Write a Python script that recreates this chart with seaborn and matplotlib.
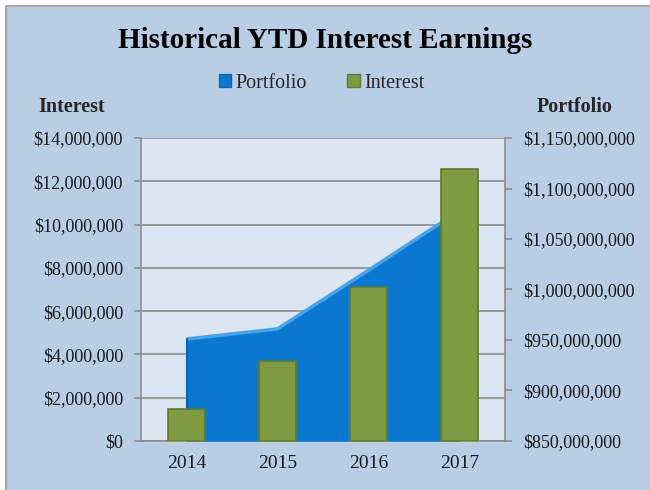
import matplotlib
matplotlib.use("Agg")
import matplotlib.pyplot as plt
import seaborn as sns
from matplotlib.patches import Rectangle
from matplotlib.ticker import FuncFormatter, FixedLocator

# Data
years = ["2014", "2015", "2016", "2017"]
interest = [1480000, 3680000, 7130000, 12580000]
portfolio = [951000000, 961000000, 1019000000, 1078000000]

BG = "#b9cde5"
PLOT_BG = "#dce6f2"
BLUE = "#0a78cf"
BLUE_EDGE = "#3ea6f2"
GREEN = "#7f9b42"
GREEN_EDGE = "#5f7a2c"
GRID = "#8c8c8c"

sns.set_theme(style="white")
plt.rcParams["font.family"] = ["Liberation Serif", "DejaVu Serif"]

fig = plt.figure(figsize=(6.5, 4.9), dpi=100)
fig.patch.set_facecolor("white")
fig.patches.append(Rectangle((6 / 650, -0.05), 1.1, 1 - 6 / 490 + 0.05,
                             transform=fig.transFigure, facecolor=BG,
                             edgecolor="#9a9a9a", linewidth=1.2, zorder=-10))

rect = [141 / 650, 49 / 490, 364 / 650, 303 / 490]
ax = fig.add_axes(rect)          # interest scale, background + grid
ax2 = ax.twinx()                 # portfolio area
ax3 = ax.twinx()                 # interest bars on top

x = list(range(len(years)))

# background & grid
ax.set_facecolor(PLOT_BG)
ax.set_ylim(0, 14000000)
ax.set_yticks(range(0, 14000001, 2000000))
ax.yaxis.grid(True, color=GRID, linewidth=1.2)
ax.set_axisbelow(True)
ax.yaxis.set_major_formatter(FuncFormatter(lambda v, p: f"${v:,.0f}"))

# portfolio area
ax2.fill_between(x, 850000000, portfolio, color=BLUE, linewidth=0, zorder=2)
ax2.plot(x, portfolio, color=BLUE_EDGE, linewidth=2.5, solid_capstyle="butt", zorder=3)
ax2.plot([0, 0], [850000000, portfolio[0]], color="#0868b8", linewidth=1.5, zorder=3)
ax2.set_ylim(850000000, 1150000000)
ax2.set_yticks(range(850000000, 1150000001, 50000000))
ax2.yaxis.set_major_formatter(FuncFormatter(lambda v, p: f"${v:,.0f}"))

# interest bars
sns.barplot(x=x, y=interest, ax=ax3, color=GREEN, width=0.4, native_scale=True,
            edgecolor=GREEN_EDGE, linewidth=1.2, saturation=1, zorder=4)
ax3.set_ylim(0, 14000000)
ax3.set_yticks([])
ax3.set_ylabel("")

for a in (ax, ax2, ax3):
    a.set_xlim(-0.5, 3.5)
    for s in a.spines.values():
        s.set_visible(False)

ax.spines["left"].set_visible(True)
ax.spines["bottom"].set_visible(True)
ax2.spines["right"].set_visible(True)
for s in (ax.spines["left"], ax.spines["bottom"], ax2.spines["right"]):
    s.set_color(GRID)
    s.set_linewidth(1.2)

# category ticks between years, labels at centers
ax.xaxis.set_major_locator(FixedLocator([-0.5, 0.5, 1.5, 2.5, 3.5]))
ax.xaxis.set_major_formatter(FuncFormatter(lambda v, p: ""))
ax.xaxis.set_minor_locator(FixedLocator(x))
ax.set_xticklabels(years, minor=True)
ax.tick_params(axis="x", which="major", direction="out", length=5, width=1.2,
               color=GRID, bottom=True)
ax.tick_params(axis="x", which="minor", length=0, pad=10, labelsize=14,
               labelcolor="#1a1a1a")
ax.tick_params(axis="y", direction="out", length=5, width=1.2, color=GRID,
               left=True, pad=8, labelsize=13, labelcolor="#1a1a1a")
ax2.tick_params(axis="y", direction="out", length=5, width=1.2, color=GRID,
                right=True, pad=8, labelsize=13, labelcolor="#1a1a1a")
ax2.set_xticks([])
ax3.set_xticks([])
ax3.set_xlabel("")

# title, legend, axis titles
fig.text(0.5, 1 - 41 / 490, "Historical YTD Interest Earnings", ha="center",
         va="center", fontsize=21, fontweight="bold", color="black")
fig.text(38 / 650, 1 - 107 / 490, "Interest", ha="left", va="center",
         fontsize=14.5, fontweight="bold")
fig.text(537 / 650, 1 - 107 / 490, "Portfolio", ha="left", va="center",
         fontsize=14.5, fontweight="bold")

handles = [Rectangle((0, 0), 1, 1, facecolor=BLUE, edgecolor="#0868b8"),
           Rectangle((0, 0), 1, 1, facecolor=GREEN, edgecolor=GREEN_EDGE)]
fig.legend(handles, ["Portfolio", "Interest"], loc="center",
           bbox_to_anchor=(0.495, 1 - 83 / 490), ncol=2, frameon=False,
           fontsize=14.5, handlelength=0.6, handleheight=0.6, handletextpad=0.25,
           columnspacing=2.0)

fig.savefig("out.png", dpi=100, facecolor=fig.get_facecolor())
